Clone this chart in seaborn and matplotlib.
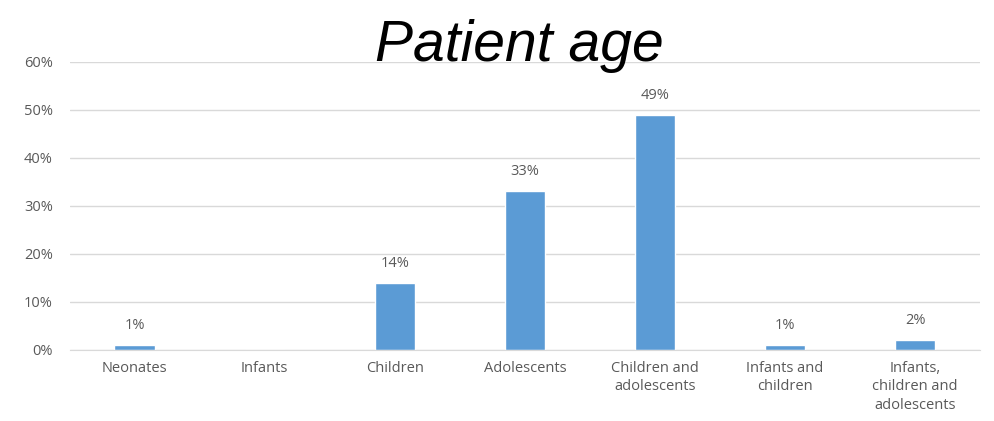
import numpy as np
import pandas as pd
import matplotlib
matplotlib.use("Agg")
import matplotlib.pyplot as plt
import seaborn as sns

categories = ["Neonates", "Infants", "Children", "Adolescents",
              "Children and\nadolescents", "Infants and\nchildren",
              "Infants,\nchildren and\nadolescents"]
values = [1, 0, 14, 33, 49, 1, 2]
labels = ["1%", "", "14%", "33%", "49%", "1%", "2%"]

df = pd.DataFrame({"category": categories, "value": values})

sns.set_style("white")
plt.rcParams["font.family"] = ["Open Sans", "DejaVu Sans"]

fig = plt.figure(figsize=(9.94, 4.21), dpi=100)
ax = fig.add_axes([0.070, 0.169, 0.916, 0.684])

sns.barplot(data=df, x="category", y="value", color="#5B9BD5", width=0.31,
            saturation=1, ax=ax)

# percentage labels above the bars (none for Infants)
for i, (v, lab) in enumerate(zip(values, labels)):
    if lab:
        ax.text(i, v + 2.5, lab, ha="center", va="bottom", fontsize=10.5, color="#595959")

ax.set_ylim(0, 60)
ax.set_xlim(-0.5, len(categories) - 0.5)
ax.set_yticks(np.arange(0, 61, 10))
ax.set_yticklabels([f"{t}%" for t in range(0, 61, 10)], fontsize=10.5, color="#595959")
ax.tick_params(axis="x", labelsize=10.5, labelcolor="#595959", length=0, pad=8)
for t in ax.get_xticklabels():
    t.set_linespacing(1.3)
ax.tick_params(axis="y", length=0, pad=12)
ax.yaxis.grid(True, color="#D9D9D9", linewidth=1)
ax.set_axisbelow(True)
for s in ["top", "right", "left"]:
    ax.spines[s].set_visible(False)
ax.spines["bottom"].set_color("#D9D9D9")
ax.set_xlabel("")
ax.set_ylabel("")

fig.text(0.523, 0.89, "Patient age", ha="center", va="center", fontsize=41,
         style="italic", family=["Liberation Sans", "DejaVu Sans"], color="black")

fig.savefig("out.png", dpi=100, facecolor="white")
